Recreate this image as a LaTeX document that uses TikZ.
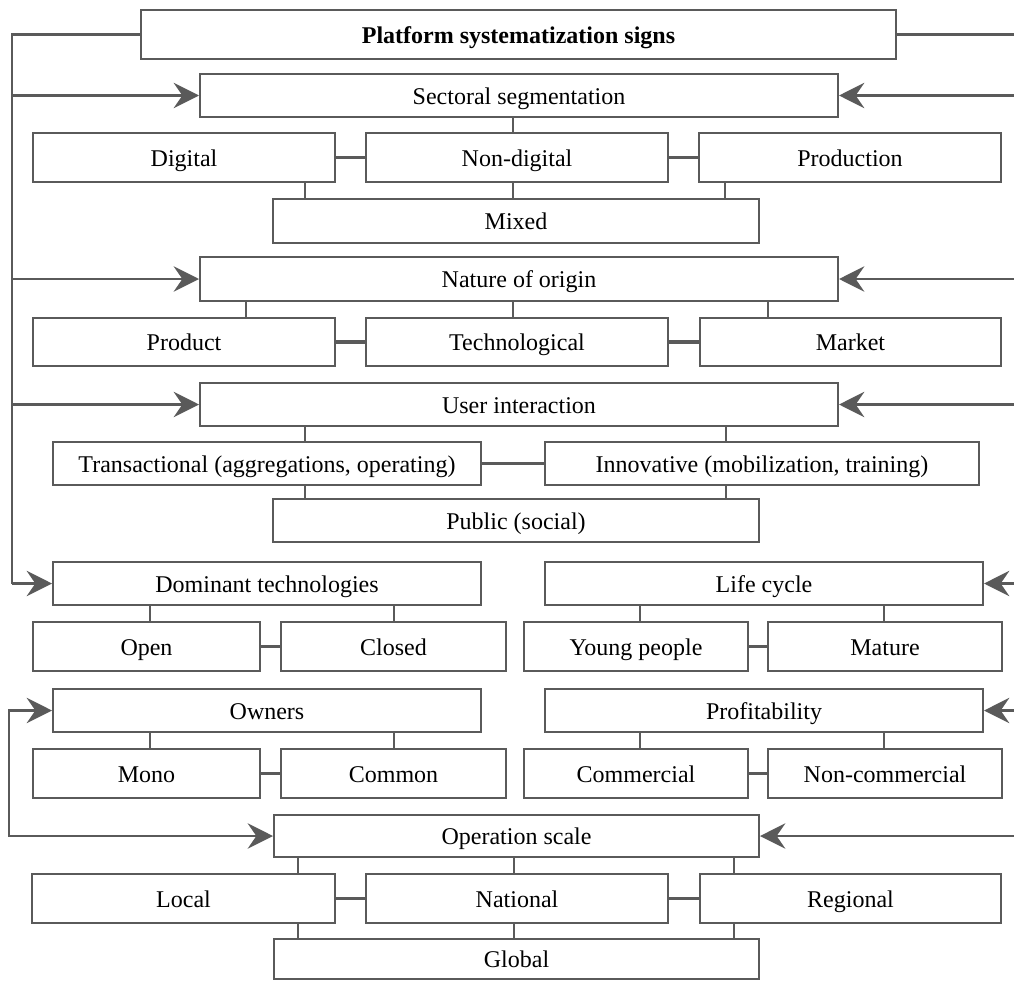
\documentclass[tikz,border=0pt]{standalone}
\usepackage{fontspec}
\setmainfont{Liberation Serif}
\usetikzlibrary{arrows.meta}
\definecolor{lg}{RGB}{90,90,90}
\newcommand\mybox[7][]{\node[box,#1,minimum width={(#5-#3)*0.75pt},minimum height={(#6-#4)*0.75pt}] (#2) at ({(#3+#5)/2},{(#4+#6)/2}) {#7};}
\begin{document}
\begin{tikzpicture}[x=0.75pt,y=-0.75pt,
  box/.style={draw=lg,line width=1.5pt,fill=white,inner sep=0pt,text height=13pt,text depth=0pt,
     font=\fontsize{18}{21}\selectfont},
  conn/.style={draw=lg,line width=1.6pt},
  thk/.style={draw=lg,line width=2.4pt},
  arr/.style={conn,-{Stealth[length=19pt,width=19pt,inset=6.5pt,fill=lg]}},
  arrboth/.style={conn,{Stealth[length=19pt,width=19pt,inset=6.5pt,fill=lg]}-{Stealth[length=19pt,width=19pt,inset=6.5pt,fill=lg]}}]
\useasboundingbox (0,0) rectangle (1014,981);
% boxes
\mybox[font=\fontsize{18}{21}\selectfont\bfseries]{title}{141}{10}{896}{59}{Platform systematization signs}
\mybox{sect}{200}{74}{838}{117}{Sectoral segmentation}
\mybox{digital}{33}{133}{335}{182}{Digital}
\mybox{nondig}{366}{133}{668}{182}{Non-digital}
\mybox{prod}{699}{133}{1001}{182}{Production}
\mybox{mixed}{273}{199}{759}{243}{Mixed}
\mybox{nature}{200}{257}{838}{301}{Nature of origin}
\mybox{product}{33}{318}{335}{366}{Product}
\mybox{tech}{366}{318}{668}{366}{Technological}
\mybox{market}{700}{318}{1001}{366}{Market}
\mybox{user}{200}{383}{838}{426}{User interaction}
\mybox{trans}{53}{442}{481}{485}{Transactional (aggregations, operating)}
\mybox{innov}{545}{442}{979}{485}{Innovative (mobilization, training)}
\mybox{public}{273}{499}{759}{542}{Public (social)}
\mybox{dom}{53}{562}{481}{605}{Dominant technologies}
\mybox{life}{545}{562}{983}{605}{Life cycle}
\mybox{open}{33}{622}{260}{671}{Open}
\mybox{closed}{281}{622}{506}{671}{Closed}
\mybox{young}{524}{622}{748}{671}{Young people}
\mybox{mature}{768}{622}{1002}{671}{Mature}
\mybox{owners}{53}{689}{481}{732}{Owners}
\mybox{profit}{545}{689}{983}{732}{Profitability}
\mybox{mono}{33}{749}{260}{798}{Mono}
\mybox{common}{281}{749}{506}{798}{Common}
\mybox{commercial}{524}{749}{748}{798}{Commercial}
\mybox{noncom}{768}{749}{1002}{798}{Non-commercial}
\mybox{op}{274}{815}{759}{857}{Operation scale}
\mybox{local}{32}{874}{335}{923}{Local}
\mybox{national}{366}{874}{668}{923}{National}
\mybox{regional}{700}{874}{1001}{923}{Regional}
\mybox{global}{274}{939}{759}{979}{Global}
% vertical connectors
\draw[conn] (sect.south -| 513,0) -- (nondig.north -| 513,0);
\draw[conn] (digital.south -| 305,0) -- (mixed.north -| 305,0);
\draw[conn] (nondig.south -| 513,0) -- (mixed.north -| 513,0);
\draw[conn] (prod.south -| 725,0) -- (mixed.north -| 725,0);
\draw[conn] (nature.south -| 246,0) -- (product.north -| 246,0);
\draw[conn] (nature.south -| 513,0) -- (tech.north -| 513,0);
\draw[conn] (nature.south -| 768,0) -- (market.north -| 768,0);
\draw[conn] (user.south -| 305,0) -- (trans.north -| 305,0);
\draw[conn] (user.south -| 726,0) -- (innov.north -| 726,0);
\draw[conn] (trans.south -| 305,0) -- (public.north -| 305,0);
\draw[conn] (innov.south -| 726,0) -- (public.north -| 726,0);
\draw[conn] (dom.south -| 150,0) -- (open.north -| 150,0);
\draw[conn] (dom.south -| 394,0) -- (closed.north -| 394,0);
\draw[conn] (life.south -| 640,0) -- (young.north -| 640,0);
\draw[conn] (life.south -| 884,0) -- (mature.north -| 884,0);
\draw[conn] (owners.south -| 150,0) -- (mono.north -| 150,0);
\draw[conn] (owners.south -| 394,0) -- (common.north -| 394,0);
\draw[conn] (profit.south -| 640,0) -- (commercial.north -| 640,0);
\draw[conn] (profit.south -| 884,0) -- (noncom.north -| 884,0);
\draw[conn] (op.south -| 298,0) -- (local.north -| 298,0);
\draw[conn] (op.south -| 514,0) -- (national.north -| 514,0);
\draw[conn] (op.south -| 734,0) -- (regional.north -| 734,0);
\draw[conn] (local.south -| 298,0) -- (global.north -| 298,0);
\draw[conn] (national.south -| 514,0) -- (global.north -| 514,0);
\draw[conn] (regional.south -| 734,0) -- (global.north -| 734,0);
% horizontal connectors
\draw[conn] (digital.east) -- (nondig.west);
\draw[conn] (nondig.east) -- (prod.west);
\draw[thk] (product.east) -- (tech.west);
\draw[thk] (tech.east) -- (market.west);
\draw[conn] (trans.east) -- (innov.west);
\draw[conn] (open.east) -- (closed.west);
\draw[thk] (young.east) -- (mature.west);
\draw[thk] (mono.east) -- (common.west);
\draw[thk] (commercial.east) -- (noncom.west);
\draw[thk] (local.east) -- (national.west);
\draw[thk] (national.east) -- (regional.west);
% left bus
\draw[conn] (title.west) -- (title.west -| 12,0) -- (dom.west -| 12,0);
\draw[arr] (sect.west -| 12,0) -- (sect.west);
\draw[arr] (nature.west -| 12,0) -- (nature.west);
\draw[arr] (user.west -| 12,0) -- (user.west);
\draw[arr] (dom.west -| 12,0) -- (dom.west);
% owners / operation scale loop
\draw[arrboth] (owners.west) -- (owners.west -| 9,0) -- (op.west -| 9,0) -- (op.west);
% right side
\draw[conn] (title.east) -- (title.east -| 1016,0);
\draw[arr] (sect.east -| 1016,0) -- (sect.east);
\draw[arr] (nature.east -| 1016,0) -- (nature.east);
\draw[arr] (user.east -| 1016,0) -- (user.east);
\draw[arr] (life.east -| 1016,0) -- (life.east);
\draw[arr] (profit.east -| 1016,0) -- (profit.east);
\draw[arr] (op.east -| 1016,0) -- (op.east);
\end{tikzpicture}
\end{document}
